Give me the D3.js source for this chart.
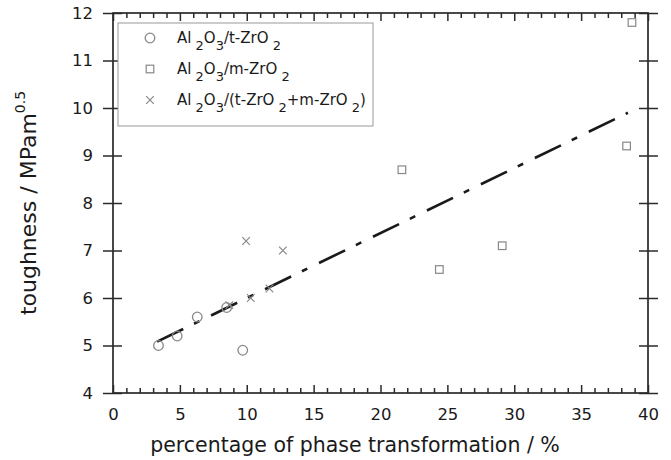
<!DOCTYPE html>
<html>
<head>
<meta charset="utf-8">
<script src="https://cdn.jsdelivr.net/npm/d3@7"></script>
<style>
  body { margin: 0; background: #fff; }
  text { font-family: "DejaVu Sans", sans-serif; fill: #1a1a1a; }
</style>
</head>
<body>
<div id="chart"></div>
<script>
// Al2O3/t-ZrO2
const tX = [3.4, 4.8, 6.3, 8.5, 9.7]
const tY = [5.0, 5.2, 5.6, 5.8, 4.9]
// Al2O3/m-ZrO2
const mX = [21.6, 24.4, 29.1, 38.4, 38.8]
const mY = [8.7, 6.6, 7.1, 9.2, 11.8]
// Al2O3/(t-ZrO2+m-ZrO2)
const tmX = [8.7, 9.95, 10.3, 11.7, 12.7]
const tmY = [5.85, 7.2, 6.0, 6.2, 7.0]
// fit line ends
const fitX = [3.3, 38.5]
const fitY = [5.08, 9.9]

const xMajor = d3.range(0, 41, 5)
const xMinor = d3.range(0, 41, 1).filter(v => v % 5 != 0)
const yTicks = d3.range(4, 13, 1)

const width = 671, height = 460
const x = d3.scaleLinear().domain([0, 40]).range([113, 648])
const y = d3.scaleLinear().domain([4, 12]).range([393, 13])

const svg = d3.select("#chart").append("svg")
    .attr("width", width)
    .attr("height", height)

const axisColor = "#2a2a2a"
const styleAxis = g => {
    g.select(".domain").remove()
    g.selectAll("line").attr("stroke", axisColor).attr("stroke-width", 1.5)
    g.selectAll("text").attr("fill", "#1a1a1a").style("font-size", "16.5px")
        .style("font-family", "DejaVu Sans, sans-serif")
}

// bottom: major (labels) + minor ticks, inward
svg.append("g").attr("transform", `translate(0,${y(4)})`)
    .call(d3.axisBottom(x).tickValues(xMajor).tickSize(-8).tickPadding(15))
    .call(styleAxis)
svg.append("g").attr("transform", `translate(0,${y(4)})`)
    .call(d3.axisBottom(x).tickValues(xMinor).tickSize(-5).tickFormat(""))
    .call(styleAxis)
// top
svg.append("g").attr("transform", `translate(0,${y(12)})`)
    .call(d3.axisTop(x).tickValues(xMajor).tickSize(-8).tickFormat(""))
    .call(styleAxis)
svg.append("g").attr("transform", `translate(0,${y(12)})`)
    .call(d3.axisTop(x).tickValues(xMinor).tickSize(-5).tickFormat(""))
    .call(styleAxis)
// left, ticks cross the axis
svg.append("g").attr("transform", `translate(${x(0)},0)`)
    .call(d3.axisLeft(y).tickValues(yTicks).tickSize(10).tickPadding(10))
    .call(styleAxis)
    .call(g => g.selectAll(".tick line").attr("x1", 9))
// right
svg.append("g").attr("transform", `translate(${x(40)},0)`)
    .call(d3.axisRight(y).tickValues(yTicks).tickSize(10).tickFormat(""))
    .call(styleAxis)
    .call(g => g.selectAll(".tick line").attr("x1", -9))

// frame
svg.append("rect")
    .attr("x", x(0)).attr("y", y(12))
    .attr("width", x(40) - x(0)).attr("height", y(4) - y(12))
    .attr("fill", "none").attr("stroke", axisColor).attr("stroke-width", 1.7)

// axis titles
svg.append("text")
    .attr("x", 355).attr("y", 452)
    .attr("text-anchor", "middle")
    .style("font-size", "20.5px")
    .text("percentage of phase transformation / %")

const yt = svg.append("text")
    .attr("transform", `translate(36,${(y(4) + y(12)) / 2}) rotate(-90)`)
    .attr("text-anchor", "middle")
    .style("font-size", "22px")
yt.append("tspan").text("toughness / MPam")
yt.append("tspan").attr("dy", -11).style("font-size", "14px").text("0.5")

// fit line (dash-dot)
svg.append("line")
    .attr("x1", x(fitX[0])).attr("y1", y(fitY[0]))
    .attr("x2", x(fitX[1])).attr("y2", y(fitY[1]))
    .attr("stroke", "#1a1a1a").attr("stroke-width", 2.6)
    .attr("stroke-dasharray", "29,12,6,13")

const markColor = "#888"
const circle = (g) => g.append("circle").attr("r", 4.8)
    .attr("fill", "none").attr("stroke", markColor).attr("stroke-width", 1.3)
const square = (g) => g.append("rect").attr("x", -3.8).attr("y", -3.8)
    .attr("width", 7.6).attr("height", 7.6)
    .attr("fill", "none").attr("stroke", markColor).attr("stroke-width", 1.2)
const cross = (g) => g.append("path").attr("d", "M-3.8,-3.8L3.8,3.8M-3.8,3.8L3.8,-3.8")
    .attr("fill", "none").attr("stroke", markColor).attr("stroke-width", 1.2)

const plotSeries = (xs, ys, shape) => {
    svg.append("g").selectAll("g")
        .data(xs.map((v, i) => [v, ys[i]]))
        .join("g")
        .attr("transform", d => `translate(${x(d[0])},${y(d[1])})`)
        .each(function() { shape(d3.select(this)) })
}
plotSeries(tX, tY, circle)
plotSeries(mX, mY, square)
plotSeries(tmX, tmY, cross)

// legend
svg.append("rect")
    .attr("x", 118).attr("y", 23).attr("width", 255).attr("height", 103)
    .attr("fill", "#fff").attr("stroke", "#999").attr("stroke-width", 1)

const legendItems = [
    { shape: circle, parts: [["Al", 0], [" 2", 1], ["O", 0], ["3", 1], ["/t-ZrO", 0], [" 2", 1]] },
    { shape: square, parts: [["Al", 0], [" 2", 1], ["O", 0], ["3", 1], ["/m-ZrO", 0], [" 2", 1]] },
    { shape: cross, parts: [["Al", 0], [" 2", 1], ["O", 0], ["3", 1], ["/(t-ZrO", 0], [" 2", 1],
        ["+m-ZrO", 0], [" 2", 1], [")", 0]] }
]
legendItems.forEach((item, i) => {
    const ly = 38 + i * 31
    const g = svg.append("g").attr("transform", `translate(150,${ly})`)
    item.shape(g)
    const t = svg.append("text").attr("x", 177).attr("y", ly + 5).style("font-size", "15px")
    let prev = 0
    item.parts.forEach(([s, sub]) => {
        t.append("tspan").attr("dy", (sub - prev) * 7)
            .style("font-size", sub ? "13px" : "15px").text(s)
        prev = sub
    })
})
</script>
</body>
</html>
